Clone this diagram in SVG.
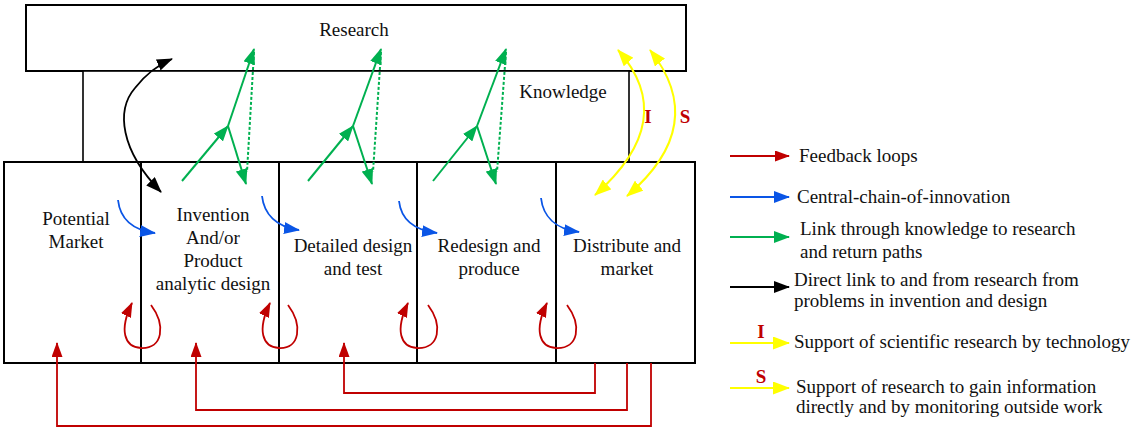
<svg xmlns="http://www.w3.org/2000/svg" width="1133" height="428" viewBox="0 0 1133 428">
<style>
text{font-family:'Liberation Serif','Times New Roman','DejaVu Serif',serif;font-size:19px;fill:#111}
.m{text-anchor:middle}
.box{fill:#fff;stroke:#000;stroke-width:2}
.div{stroke:#000;stroke-width:2}
.g{fill:none;stroke:#00b050;stroke-width:2}
.gd{fill:none;stroke:#00b050;stroke-width:2;stroke-dasharray:3,2}
.b{fill:none;stroke:#0a55e6;stroke-width:1.8}
.r{fill:none;stroke:#c00000;stroke-width:1.8}
.k{fill:none;stroke:#000;stroke-width:1.8}
.y{fill:none;stroke:#ffff00;stroke-width:2}
.lbl{fill:#c00000;font-weight:bold;font-size:19px}
</style>
<defs>
<marker id="aG" markerUnits="userSpaceOnUse" markerWidth="16" markerHeight="12" refX="15" refY="6" orient="auto"><path d="M0,0 L16,6 L0,12 z" fill="#00b050"/></marker>
<marker id="aB" markerUnits="userSpaceOnUse" markerWidth="16" markerHeight="12" refX="15" refY="6" orient="auto"><path d="M0,0 L16,6 L0,12 z" fill="#0a55e6"/></marker>
<marker id="aR" markerUnits="userSpaceOnUse" markerWidth="15" markerHeight="11" refX="14" refY="5.5" orient="auto"><path d="M0,0 L15,5.5 L0,11 z" fill="#c00000"/></marker>
<marker id="aK" markerUnits="userSpaceOnUse" markerWidth="16" markerHeight="12" refX="15" refY="6" orient="auto-start-reverse"><path d="M0,0 L16,6 L0,12 z" fill="#000"/></marker>
<marker id="aY" markerUnits="userSpaceOnUse" markerWidth="17" markerHeight="13" refX="16" refY="6.5" orient="auto-start-reverse"><path d="M0,0 L17,6.5 L0,13 z" fill="#ffff00"/></marker>
</defs>

<g id="research"><rect class="box" x="26" y="5" width="660" height="66"/><text class="m" x="354" y="36">Research</text></g>
<g id="knowledge"><rect class="box" x="83" y="71" width="546" height="91" style="stroke-width:1.6"/><text class="m" x="563" y="98">Knowledge</text></g>
<g id="stages"><rect class="box" x="4" y="162" width="691" height="201"/>
<line class="div" x1="141" y1="162" x2="141" y2="363"/>
<line class="div" x1="279" y1="162" x2="279" y2="363"/>
<line class="div" x1="417" y1="162" x2="417" y2="363"/>
<line class="div" x1="556" y1="162" x2="556" y2="363"/>
</g>
<g id="potential-market"><text class="m" x="76" y="225">Potential</text><text class="m" x="76" y="248">Market</text></g>
<g id="invention"><text class="m" x="213" y="221">Invention</text><text class="m" x="213" y="244">And/or</text><text class="m" x="213" y="267">Product</text><text class="m" x="213" y="290">analytic design</text></g>
<g id="detailed-design"><text class="m" x="353" y="252">Detailed design</text><text class="m" x="353" y="275">and test</text></g>
<g id="redesign"><text class="m" x="489" y="252">Redesign and</text><text class="m" x="489" y="275">produce</text></g>
<g id="distribute"><text class="m" x="627" y="252">Distribute and</text><text class="m" x="627" y="275">market</text></g>

<g id="connectors">
<path class="g" d="M182,181 L228,126" marker-end="url(#aG)"/>
<path class="g" d="M228,126 L254,49" marker-end="url(#aG)"/>
<path class="g" d="M228,126 L246,184" marker-end="url(#aG)"/>
<path class="gd" d="M254,52 L247,172"/>
<path class="g" d="M308,181 L353,126" marker-end="url(#aG)"/>
<path class="g" d="M353,126 L381,49" marker-end="url(#aG)"/>
<path class="g" d="M353,126 L372,184" marker-end="url(#aG)"/>
<path class="gd" d="M381,52 L373,172"/>
<path class="g" d="M433,181 L477,126" marker-end="url(#aG)"/>
<path class="g" d="M477,126 L506,49" marker-end="url(#aG)"/>
<path class="g" d="M477,126 L496,184" marker-end="url(#aG)"/>
<path class="gd" d="M506,52 L497,172"/>
<path class="k" d="M161,192 C120,150 116,110 135,88 C145,75 158,65 172,59" marker-start="url(#aK)" marker-end="url(#aK)"/>
<path class="b" d="M118,200 C120,218 132,230 155,233" marker-end="url(#aB)"/>
<path class="b" d="M262,196 C264,214 276,227 299,230" marker-end="url(#aB)"/>
<path class="b" d="M399,201 C401,219 413,230 437,233" marker-end="url(#aB)"/>
<path class="b" d="M541,198 C543,216 555,229 579,232" marker-end="url(#aB)"/>
<path class="r" d="M151,305 C166,325 163,349 141,348 C124,347 119,330 132,303" marker-end="url(#aR)"/>
<path class="r" d="M288,305 C303,325 300,349 279,348 C262,347 257,330 270,303" marker-end="url(#aR)"/>
<path class="r" d="M428,305 C443,325 440,349 417,348 C400,347 395,330 408,303" marker-end="url(#aR)"/>
<path class="r" d="M567,305 C582,325 579,349 556,348 C539,347 534,330 547,303" marker-end="url(#aR)"/>
<path class="r" d="M595,363 V393 H344 V343" marker-end="url(#aR)"/>
<path class="r" d="M627,363 V410 H196 V343" marker-end="url(#aR)"/>
<path class="r" d="M651,363 V426 H57 V343" marker-end="url(#aR)"/>
<path class="y" d="M595,195 Q680,120 618,50" marker-start="url(#aY)" marker-end="url(#aY)"/>
<path class="y" d="M627,196 Q710,125 650,50" marker-start="url(#aY)" marker-end="url(#aY)"/>
</g>
<text class="lbl" x="648" y="123" text-anchor="middle">I</text>
<text class="lbl" x="685" y="123" text-anchor="middle">S</text>

<g id="legend">
<path class="r" d="M730,156 H789" marker-end="url(#aR)"/>
<text x="799" y="162">Feedback loops</text>
<path class="b" d="M730,197 H789" marker-end="url(#aB)"/>
<text x="797" y="203">Central-chain-of-innovation</text>
<path class="g" d="M730,237 H789" marker-end="url(#aG)"/>
<text x="800" y="235">Link through knowledge to research</text>
<text x="800" y="258">and return paths</text>
<path class="k" d="M730,287 H789" marker-end="url(#aK)"/>
<text x="794" y="286">Direct link to and from research from</text>
<text x="794" y="307">problems in invention and design</text>
<path class="y" d="M730,343 H789" marker-end="url(#aY)"/>
<text class="lbl" x="761" y="338" text-anchor="middle">I</text>
<text x="794" y="348">Support of scientific research by technology</text>
<path class="y" d="M730,388 H789" marker-end="url(#aY)"/>
<text class="lbl" x="761" y="383" text-anchor="middle">S</text>
<text x="796" y="393">Support of research to gain information</text>
<text x="796" y="413">directly and by monitoring outside work</text>
</g>
</svg>
